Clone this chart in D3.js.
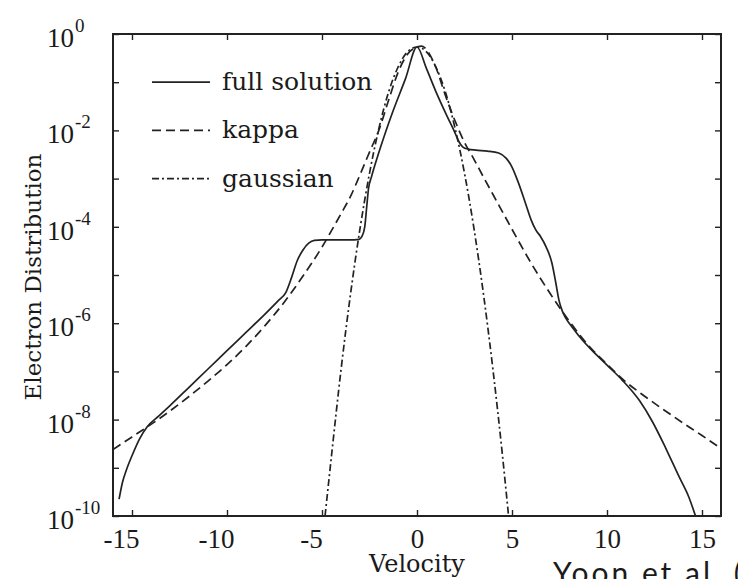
<!DOCTYPE html>
<html>
<head>
<meta charset="utf-8">
<script src="https://cdn.jsdelivr.net/npm/d3@7"></script>
<style>
  body { margin: 0; background: #fff; }
  svg { display: block; }
  text { font-family: "DejaVu Serif", serif; fill: #1a1a1a; }
</style>
</head>
<body>
<svg id="chart" width="738" height="579"></svg>
<script>
// velocity ticks and decade ticks
var velocityTicks = [-15, -10, -5, 0, 5, 10, 15];
var decadeExponents = [0, -1, -2, -3, -4, -5, -6, -7, -8, -9, -10];
var labelExponents = [0, -2, -4, -6, -8, -10];

// full solution (log10 of distribution)
var fullV = [-15.68, -15.5, -15.3, -15.0, -14.6, -14.2, -13.6, -13, -12, -11, -10, -9, -8, -7.3, -6.9, -6.6, -6.3, -6.0, -5.7, -5.4, -5, -4, -3.3, -3.05, -2.9, -2.75, -2.65, -2.55, -2.4, -2.0, -1.3, -0.6, 0,
  0.5, 1, 1.6, 2.0, 2.2, 2.4, 2.7, 3.1, 3.7, 4.3, 4.7, 5.0, 5.35, 5.7, 6.0, 6.26, 6.5, 6.8, 7.1, 7.3, 7.47, 7.65, 7.84, 8.2, 8.7, 9.2, 10, 10.8, 11.7, 12.4, 13.1, 13.8, 14.3, 14.7];
var fullLog = [-9.65, -9.3, -9.05, -8.75, -8.4, -8.15, -7.93, -7.71, -7.33, -6.95, -6.57, -6.19, -5.81, -5.53, -5.36, -5.05, -4.7, -4.48, -4.34, -4.28, -4.27, -4.27, -4.27, -4.26, -4.2, -4.0, -3.6, -3.2, -2.97, -2.45, -1.64, -0.92, -0.27,
  -0.72, -1.2, -1.72, -2.05, -2.23, -2.34, -2.39, -2.41, -2.43, -2.47, -2.58, -2.76, -3.1, -3.5, -3.85, -4.07, -4.2, -4.42, -4.75, -5.15, -5.52, -5.75, -5.9, -6.1, -6.35, -6.56, -6.87, -7.18, -7.6, -8.05, -8.6, -9.19, -9.6, -10.05];

// kappa fit
var kappaV = [-16, -15, -14, -13, -12, -11, -10, -9, -8, -7, -6, -5, -4.5, -4, -3.5, -3, -2.5, -2, -1.5, -1, -0.5, 0, 0.25, 0.6, 1, 1.5, 2, 2.5, 3, 3.5, 4, 5, 6, 7, 8, 9, 10, 11, 12, 13, 14, 15, 16];
var kappaLog = [-8.62, -8.36, -8.1, -7.82, -7.52, -7.2, -6.86, -6.48, -6.05, -5.57, -5.02, -4.42, -4.08, -3.73, -3.37, -2.92, -2.45, -1.99, -1.38, -0.8, -0.42, -0.27, -0.25, -0.38, -0.7, -1.28, -1.8, -2.25, -2.6, -2.97, -3.33, -4.05, -4.75, -5.38, -5.95, -6.45, -6.85, -7.22, -7.52, -7.8, -8.07, -8.33, -8.6];

// gaussian fit
var gaussV = [-4.84, -4.5, -4, -3.5, -3, -2.5, -2, -1.5, -1, -0.5, 0, 0.5, 1, 1.5, 2, 2.5, 3, 3.5, 4, 4.5, 4.82];
var gaussLog = [-10, -8.75, -6.97, -5.4, -4.04, -2.89, -1.95, -1.21, -0.69, -0.37, -0.27, -0.37, -0.69, -1.21, -1.95, -2.89, -4.04, -5.4, -6.97, -8.75, -10];

var seriesNames = ["full solution", "kappa", "gaussian"];
var seriesDash = [null, "9,5", "7,3,2,3"];

var svg = d3.select("#chart"),
    margin = { top: 34, right: 17, bottom: 63, left: 113 },
    width = +svg.attr("width") - margin.left - margin.right,
    height = +svg.attr("height") - margin.top - margin.bottom,
    g = svg.append("g").attr("transform", "translate(" + margin.left + "," + margin.top + ")");

var x = d3.scaleLinear().domain([-16, 16]).range([0, width]);
var y = d3.scaleLog().domain([1e-10, 1]).range([height, 0]);

function toPoints(vs, ls) {
    return vs.map(function (v, i) { return { v: v, f: Math.pow(10, ls[i]) }; });
}
var series = [toPoints(fullV, fullLog), toPoints(kappaV, kappaLog), toPoints(gaussV, gaussLog)];

g.append("clipPath").attr("id", "clip")
    .append("rect").attr("width", width).attr("height", height);

var line = d3.line()
    .curve(d3.curveMonotoneX)
    .x(function (d) { return x(d.v); })
    .y(function (d) { return y(d.f); });

g.append("g").attr("clip-path", "url(#clip)")
    .selectAll("path")
    .data(series)
    .enter().append("path")
    .attr("d", line)
    .attr("fill", "none")
    .attr("stroke", "#222")
    .attr("stroke-width", 1.7)
    .attr("stroke-dasharray", function (d, i) { return seriesDash[i]; });

// axes: ticks point inward on all four sides
var decades = decadeExponents.map(function (e) { return Math.pow(10, e); });

var xBottom = g.append("g")
    .attr("transform", "translate(0," + height + ")")
    .call(d3.axisBottom(x).tickValues(velocityTicks).tickSize(-6).tickPadding(12)
        .tickFormat(function (d) { return d < 0 ? "-" + Math.abs(d) : d; }));
xBottom.selectAll("text")
    .attr("dx", function (d) { return d < 0 ? -11 : 0; })
    .attr("dy", "0.75em");

g.append("g").call(d3.axisTop(x).tickValues(velocityTicks).tickSize(-6).tickFormat(""));
g.append("g").call(d3.axisLeft(y).tickValues(decades).tickSize(-6).tickFormat(""));
g.append("g").attr("transform", "translate(" + width + ",0)")
    .call(d3.axisRight(y).tickValues(decades).tickSize(-6).tickFormat(""));

g.selectAll(".domain").remove();
g.selectAll(".tick line").attr("stroke", "#222").attr("stroke-width", 1.4);
g.selectAll(".tick text").style("font-family", "Liberation Serif, serif").style("font-size", "27px").attr("fill", "#1a1a1a");

g.append("rect")
    .attr("width", width).attr("height", height)
    .attr("fill", "none").attr("stroke", "#222").attr("stroke-width", 2);

// y tick labels as 10^n
var yLab = svg.append("g");
labelExponents.forEach(function (e) {
    var t = yLab.append("text")
        .attr("x", 47)
        .attr("y", margin.top + y(Math.pow(10, e)) + 13)
        .style("font-family", "Liberation Serif, serif")
        .style("font-size", "27px");
    t.append("tspan").text("10");
    t.append("tspan").attr("dx", 1).attr("dy", -15).style("font-size", "19px").text(e);
});

// legend
var legend = g.append("g");
seriesNames.forEach(function (name, i) {
    var ly = y(Math.pow(10, -1 - i));
    legend.append("line")
        .attr("x1", 39).attr("x2", 97).attr("y1", ly).attr("y2", ly)
        .attr("stroke", "#222").attr("stroke-width", 1.7)
        .attr("stroke-dasharray", seriesDash[i]);
    legend.append("text")
        .attr("x", 109).attr("y", ly + 8)
        .style("font-size", "25px")
        .text(name);
});

// axis titles
svg.append("text")
    .attr("x", margin.left + x(0)).attr("y", 572)
    .attr("text-anchor", "middle")
    .style("font-size", "24px")
    .text("Velocity");

svg.append("text")
    .attr("transform", "translate(41," + (margin.top + height / 2 + 2) + ") rotate(-90)")
    .attr("text-anchor", "middle")
    .style("font-size", "23px")
    .text("Electron Distribution");

svg.append("text")
    .attr("x", 553).attr("y", 584)
    .style("font-family", "Lato, sans-serif")
    .style("font-size", "30px")
    .style("letter-spacing", "3px")
    .attr("fill", "#c65a28")
    .text("Yoon et al. (2006)");
</script>
</body>
</html>
